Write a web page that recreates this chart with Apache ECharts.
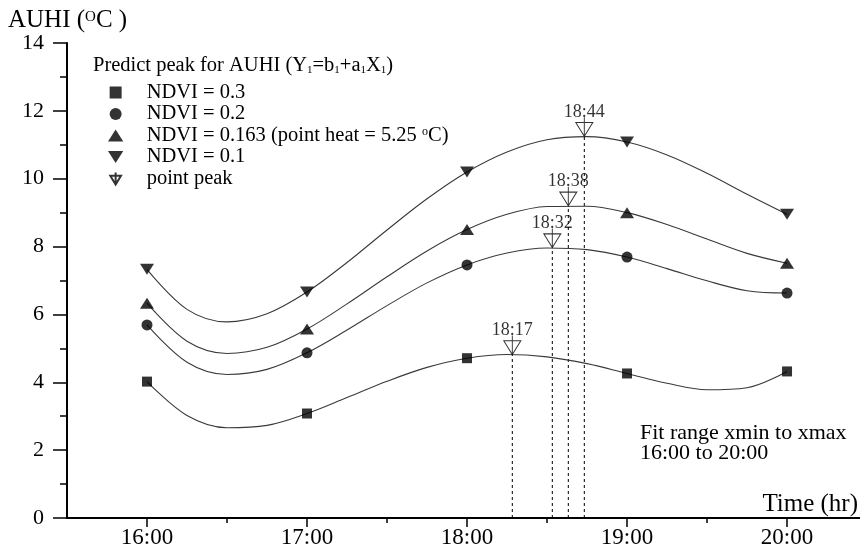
<!DOCTYPE html>
<html>
<head>
<meta charset="utf-8">
<script src="https://cdn.jsdelivr.net/npm/echarts@6/dist/echarts.min.js"></script>
<style>
html,body{margin:0;padding:0;background:#fff;}
#chart{width:860px;height:547px;}
</style>
</head>
<body>
<div id="chart"></div>
<script>
// ---- data ----
const hours = [16, 17, 18, 19, 20];
const tickLabels = ['16:00', '17:00', '18:00', '19:00', '20:00'];
const halfHours = [16.5, 17.5, 18.5, 19.5];

const ndvi03 = [4.02, 3.08, 4.71, 4.26, 4.32];
const ndvi02 = [5.69, 4.87, 7.46, 7.69, 6.63];
const ndvi0163 = [6.33, 5.57, 8.50, 9.00, 7.51];
const ndvi01 = [7.33, 6.66, 10.20, 11.08, 8.95];

// fitted curves, values
const fitHours = [16, 16.25, 16.5, 16.75, 17, 17.25, 17.5, 17.75, 18, 18.25, 18.5, 18.75, 19, 19.25, 19.5, 19.75, 20];
const fit03 = [4.02, 3.02, 2.66, 2.73, 3.08, 3.55, 4.03, 4.44, 4.71, 4.82, 4.75, 4.55, 4.26, 3.97, 3.78, 3.84, 4.32];
const fit02 = [5.69, 4.59, 4.23, 4.38, 4.87, 5.54, 6.26, 6.93, 7.46, 7.81, 7.96, 7.91, 7.69, 7.35, 6.99, 6.70, 6.63];
const fit0163 = [6.33, 5.21, 4.85, 5.03, 5.57, 6.31, 7.11, 7.87, 8.50, 8.95, 9.18, 9.19, 9.00, 8.65, 8.22, 7.80, 7.51];
const fit01 = [7.33, 6.15, 5.78, 6.02, 6.66, 7.53, 8.49, 9.41, 10.20, 10.79, 11.15, 11.24, 11.08, 10.70, 10.16, 9.54, 8.95];

const peakHours = [18.283, 18.533, 18.633, 18.733];
const peakValues = [4.82, 7.97, 9.20, 11.25];
const peakLabels = ['18:17', '18:32', '18:38', '18:44'];

const seriesNames = ['NDVI = 0.3', 'NDVI = 0.2', 'NDVI = 0.163 (point heat = 5.25 °C)', 'NDVI = 0.1'];
const peakName = 'point peak';

// ---- styling ----
const FONT = "'Liberation Serif', 'Times New Roman', serif";
const squarePath = 'path://M0,0L10,0L10,10L0,10Z';
const upTri = 'path://M7,0L14,11L0,11Z';
const downTri = 'path://M0,0L14,0L7,11Z';
const peakPath = 'path://M0,5L16,5L8,18ZM8,0L8,18';
const symbols = ['rect', 'circle', 'triangle', downTri];
const symbolSizes = [10, 11, [14, 11], [14, 11]];
const legendIcons = [squarePath, 'circle', upTri, downTri, peakPath];
const pointSets = [ndvi03, ndvi02, ndvi0163, ndvi01];
const fitSets = [fit03, fit02, fit0163, fit01];

const zip = (xs, ys) => xs.map((x, i) => [x, ys[i]]);

const series = [];
fitSets.forEach((fit, k) => {
  series.push({
    type: 'line', name: 'fit' + k, data: zip(fitHours, fit),
    smooth: 0.35, showSymbol: false, symbol: 'none', silent: true, z: 2,
    lineStyle: { color: '#3a3a3a', width: 1.1 }
  });
});
pointSets.forEach((pts, k) => {
  series.push({
    type: 'scatter', name: seriesNames[k], data: zip(hours, pts),
    symbol: symbols[k], symbolSize: symbolSizes[k], z: 4,
    itemStyle: { color: '#000' }
  });
});
peakHours.forEach((h, k) => {
  series.push({
    type: 'line', name: 'drop' + k, data: [[h, 0], [h, peakValues[k]]],
    symbol: 'none', silent: true, z: 1,
    lineStyle: { color: '#000', width: 1, type: [3, 3] }
  });
});
series.push({
  type: 'scatter', name: peakName, data: zip(peakHours, peakValues),
  symbol: peakPath, symbolSize: [17, 19], symbolOffset: [0, '-50%'], z: 5,
  itemStyle: { color: '#fff', borderColor: '#000', borderWidth: 1 },
  label: {
    show: true, position: 'top', distance: -4,
    formatter: p => peakLabels[p.dataIndex],
    fontFamily: FONT, fontSize: 18, color: '#000'
  }
});

function richSet(size) {
  return {
    t: { fontFamily: FONT, fontSize: size, fontWeight: 'normal', color: '#000', lineHeight: 20 },
    s: { fontFamily: FONT, fontSize: Math.round(size * 0.6), fontWeight: 'normal', color: '#000', verticalAlign: 'top', lineHeight: 7 },
    b: { fontFamily: FONT, fontSize: Math.round(size * 0.55), fontWeight: 'normal', color: '#000', verticalAlign: 'bottom', lineHeight: 11 }
  };
}

const option = {
  backgroundColor: '#fff',
  animation: false,
  grid: [
    { left: 67, right: 0, top: 43, bottom: 29, outerBoundsMode: 'none' },
    { left: 67, right: 0, top: 43, bottom: 29, outerBoundsMode: 'none' }
  ],
  title: [
    { left: 8, top: 10, padding: 0,
      text: '{t|AUHI (}{s|O}{t|C )}',
      textStyle: { fontWeight: 'normal', rich: richSet(25) } },
    { left: 93, top: 56, padding: 0,
      text: '{t|Predict peak for AUHI (Y}{b|1}{t|=b}{b|1}{t|+a}{b|1}{t|X}{b|1}{t|)}',
      textStyle: { fontWeight: 'normal', rich: richSet(20.5) } },
    { left: 640, top: 423, padding: 0,
      text: 'Fit range xmin to xmax\n16:00 to 20:00',
      textStyle: { fontFamily: FONT, fontSize: 22, lineHeight: 20, fontWeight: 'normal', color: '#000' } },
    { right: 2, top: 492, padding: 0,
      text: 'Time (hr)',
      textStyle: { fontFamily: FONT, fontSize: 25, fontWeight: 'normal', color: '#000' } }
  ],
  legend: {
    orient: 'vertical', left: 108, top: 82, padding: 0,
    itemWidth: 52, itemHeight: 12, itemGap: 0.5,
    selectedMode: false,
    data: seriesNames.concat([peakName]).map((n, i) => ({ name: n, icon: legendIcons[i] })),
    formatter: name => name === seriesNames[2]
      ? '{t|NDVI = 0.163 (point heat = 5.25 }{s|o}{t|C)}'
      : '{t|' + name + '}',
    textStyle: { rich: richSet(20.5) }
  },
  xAxis: [
    {
      type: 'value', gridIndex: 0, min: 15.5, max: 20.456,
      splitLine: { show: false },
      axisLine: { show: true, lineStyle: { color: '#000', width: 2 } },
      axisTick: { show: true, customValues: hours, length: 9, lineStyle: { color: '#000', width: 1.5 } },
      axisLabel: {
        show: true, customValues: hours, margin: 8,
        formatter: v => tickLabels[hours.indexOf(v)],
        fontFamily: FONT, fontSize: 23, color: '#000'
      }
    },
    {
      type: 'value', gridIndex: 1, min: 15.5, max: 20.456,
      splitLine: { show: false },
      axisLine: { show: false },
      axisTick: { show: true, customValues: halfHours, length: 5, lineStyle: { color: '#000', width: 1.5 } },
      axisLabel: { show: false }
    }
  ],
  yAxis: [
    {
      type: 'value', gridIndex: 0, min: 0, max: 14, interval: 2,
      splitLine: { show: false },
      axisLine: { show: true, lineStyle: { color: '#000', width: 2 } },
      axisTick: { show: true, length: 14, lineStyle: { color: '#000', width: 1.5 } },
      minorTick: { show: true, splitNumber: 2, length: 7, lineStyle: { color: '#000', width: 1.5 } },
      minorSplitLine: { show: false },
      axisLabel: { margin: 23, fontFamily: FONT, fontSize: 22, color: '#000' }
    },
    {
      type: 'value', gridIndex: 1, min: 0, max: 14, show: false
    }
  ],
  series: series
};

const chart = echarts.init(document.getElementById('chart'), null, { renderer: 'canvas' });
chart.setOption(option);
</script>
</body>
</html>
